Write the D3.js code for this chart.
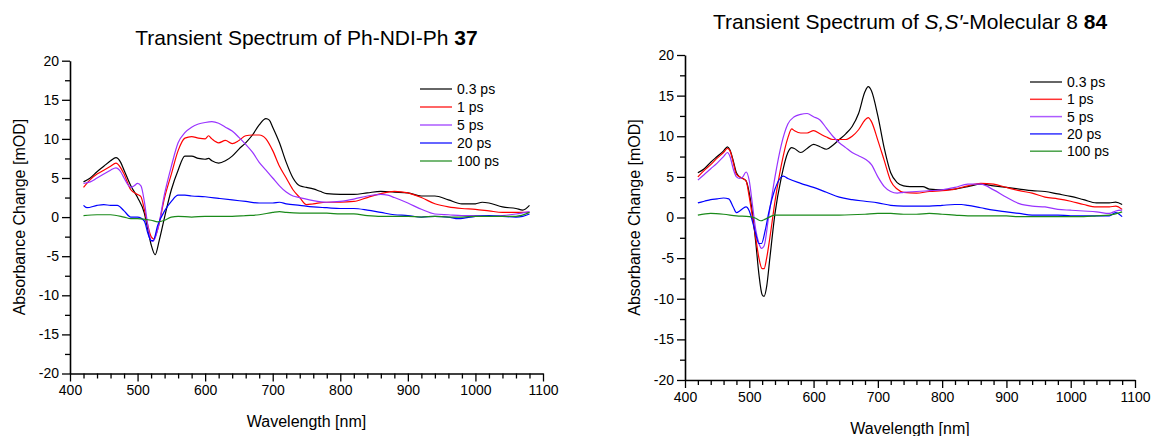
<!DOCTYPE html>
<html>
<head>
<meta charset="utf-8">
<script src="https://cdn.jsdelivr.net/npm/d3@7"></script>
<style>
  body { margin: 0; background: #fff; }
  svg { display: block; font-family: "Liberation Sans", Arial, sans-serif; }
</style>
</head>
<body>
<div id="chart"></div>
<script>
// series labels + colours
const seriesNames = ["0.3 ps", "1 ps", "5 ps", "20 ps", "100 ps"];
const seriesColors = ["#000000", "#ff0000", "#9933ff", "#0000ff", "#1a8a1a"];

const xTicks = [400, 500, 600, 700, 800, 900, 1000, 1100];
const yTicks = [-20, -15, -10, -5, 0, 5, 10, 15, 20];

// Ph-NDI-Ph 37  [nm, mOD]
const left03 = [[420,4.5],[430,5.0],[440,5.8],[450,6.5],[460,7.2],[468,7.6],[475,7.0],[480,6.0],[490,4.0],[500,2.5],[510,0.5],[515,-1.5],[520,-3.5],[526,-4.8],[532,-3.0],[540,0],[550,3.5],[560,6.0],[570,7.8],[580,7.8],[590,7.5],[600,7.4],[605,7.5],[610,7.2],[620,6.9],[630,7.2],[640,7.8],[650,8.7],[660,9.5],[670,10.5],[680,11.8],[690,12.6],[695,12.4],[700,11.5],[710,9.5],[720,7.0],[730,5.0],[740,4.0],[750,3.8],[760,3.6],[770,3.3],[780,3.0],[800,2.9],[820,2.9],[840,3.1],[860,3.3],[880,3.2],[900,3.1],[920,2.7],[940,2.7],[960,2.2],[980,1.7],[1000,1.7],[1010,1.9],[1020,1.8],[1040,1.3],[1060,1.1],[1070,0.9],[1080,1.5]];
const left1 = [[420,3.8],[430,4.8],[440,5.5],[450,6.0],[460,6.5],[468,6.9],[475,6.3],[480,5.5],[490,3.5],[500,2.9],[505,2.6],[510,1.0],[515,-1.0],[520,-2.5],[524,-2.8],[530,-1.5],[540,2.5],[550,5.5],[560,8.5],[570,10.1],[580,10.3],[590,10.1],[600,10.0],[605,10.4],[610,10.0],[620,9.5],[630,9.8],[640,9.4],[650,9.8],[660,10.4],[670,10.5],[680,10.5],[690,10.0],[700,8.5],[710,6.5],[720,5.0],[730,3.5],[740,2.5],[750,1.6],[760,1.7],[780,1.9],[800,1.9],[820,2.0],[840,2.5],[860,3.0],[880,3.3],[900,3.1],[920,2.5],[940,1.7],[960,1.3],[980,1.1],[1000,1.0],[1020,0.8],[1040,0.6],[1060,0.6],[1080,0.6]];
const left5 = [[420,4.3],[430,4.5],[440,5.0],[450,5.5],[460,6.0],[468,6.3],[475,5.8],[480,5.0],[490,3.8],[495,4.0],[500,4.3],[505,4.0],[510,2.0],[515,-1.0],[520,-3.0],[523,-3.1],[530,-1.5],[540,3.0],[550,6.5],[560,9.5],[570,10.8],[580,11.5],[590,11.9],[600,12.1],[610,12.2],[620,12.0],[630,11.5],[640,11.0],[650,10.2],[660,9.3],[670,8.3],[680,7.0],[690,6.0],[700,5.0],[710,4.0],[720,3.2],[730,2.7],[740,2.5],[760,2.1],[780,1.9],[800,2.0],[820,2.3],[840,2.7],[860,2.9],[870,2.8],[880,2.5],[900,1.8],[920,1.0],[940,0.4],[960,0.3],[980,0.2],[1000,0.2],[1020,0.1],[1040,0.2],[1060,0.4],[1080,0.7]];
const left20 = [[420,1.5],[425,1.2],[440,1.5],[450,1.6],[460,1.5],[470,1.5],[480,0.8],[490,0.0],[500,0.0],[510,-0.5],[515,-2.0],[520,-3.0],[523,-3.0],[530,-1.0],[540,0.8],[550,2.0],[560,2.8],[570,2.8],[580,2.7],[600,2.6],[620,2.4],[640,2.2],[660,2.0],[680,1.8],[700,1.8],[710,1.9],[720,1.7],[740,1.5],[760,1.3],[780,1.2],[800,1.1],[820,1.1],[840,0.9],[860,0.6],[880,0.3],[900,0.2],[920,0.0],[940,0.1],[960,0.0],[975,-0.2],[1000,0.1],[1020,0.2],[1040,0.1],[1060,0.0],[1070,0.1],[1080,0.4]];
const left100 = [[420,0.2],[440,0.3],[460,0.3],[480,0.0],[490,-0.2],[500,-0.2],[520,-0.4],[530,-0.6],[540,-0.4],[550,0.0],[560,0.1],[580,0.0],[600,0.1],[620,0.1],[640,0.1],[660,0.2],[680,0.3],[700,0.6],[710,0.7],[720,0.6],[740,0.5],[760,0.5],[780,0.5],[800,0.4],[820,0.4],[840,0.2],[860,0.1],[880,0.1],[900,0.1],[920,0.0],[940,0.1],[960,0.0],[980,0.0],[1000,0.1],[1020,0.1],[1040,0.1],[1060,0.1],[1080,0.6]];

// S,S'-Molecular 8 84  [nm, mOD]
const right03 = [[420,5.5],[430,6.0],[440,6.8],[450,7.5],[460,8.2],[466,8.7],[470,8.3],[475,7.0],[480,5.5],[485,5.0],[490,4.8],[495,4.5],[500,3.0],[505,0.5],[510,-3.0],[515,-7.0],[520,-9.5],[523,-9.7],[527,-8.5],[532,-5.0],[540,0.5],[550,5.0],[560,8.0],[566,8.6],[570,8.5],[580,8.0],[590,8.5],[600,9.0],[610,8.7],[620,8.4],[630,8.9],[640,9.6],[650,10.3],[660,11.2],[670,12.8],[680,15.5],[685,16.1],[690,15.6],[700,12.5],[710,8.5],[720,5.5],[730,4.3],[740,3.9],[750,3.8],[760,3.8],[770,3.8],[780,3.5],[800,3.4],[820,3.5],[840,3.8],[860,4.1],[880,3.9],[900,3.7],[920,3.5],[940,3.3],[960,3.2],[980,2.9],[1000,2.6],[1020,2.2],[1040,1.8],[1060,1.8],[1070,1.9],[1080,1.6]];
const right1 = [[420,5.0],[430,5.8],[440,6.5],[450,7.3],[460,8.0],[466,8.5],[470,8.2],[475,6.8],[480,5.3],[490,4.8],[495,4.5],[500,2.5],[505,0.0],[510,-2.5],[515,-5.0],[520,-6.3],[523,-6.3],[527,-5.0],[532,-2.5],[540,2.0],[550,6.5],[560,9.8],[566,10.9],[570,10.7],[580,10.4],[590,10.4],[600,10.7],[610,10.3],[620,9.9],[630,9.6],[640,9.6],[650,9.6],[660,10.0],[670,10.8],[680,12.0],[685,12.3],[690,11.8],[700,9.5],[710,7.0],[720,4.5],[730,3.5],[740,3.1],[760,3.0],[780,3.2],[800,3.3],[820,3.5],[840,3.9],[860,4.2],[880,4.1],[900,3.7],[920,3.3],[940,3.0],[960,2.5],[980,2.3],[1000,2.0],[1020,1.6],[1040,1.3],[1060,1.3],[1070,1.4],[1080,1.0]];
const right5 = [[420,4.6],[430,5.3],[440,6.0],[450,6.7],[460,7.5],[466,8.0],[470,7.5],[475,6.0],[480,5.0],[485,4.8],[490,5.0],[495,5.6],[500,4.5],[505,1.5],[510,-1.5],[515,-3.2],[519,-3.8],[523,-3.5],[530,0.0],[540,5.0],[550,9.0],[560,11.5],[570,12.4],[580,12.7],[590,12.8],[600,12.4],[610,12.0],[620,11.0],[630,10.0],[640,9.2],[650,8.6],[660,8.0],[670,7.6],[680,7.2],[690,6.5],[700,5.0],[710,3.8],[720,3.2],[730,3.0],[740,3.1],[760,3.2],[780,3.3],[800,3.4],[820,3.7],[840,4.1],[860,4.1],[880,3.4],[900,2.5],[920,1.7],[940,1.4],[960,1.3],[980,1.0],[1000,0.9],[1020,0.8],[1040,0.7],[1060,0.5],[1070,0.8],[1080,0.9]];
const right20 = [[420,1.8],[430,2.0],[440,2.2],[450,2.3],[460,2.4],[468,2.3],[475,1.3],[480,0.6],[485,0.8],[490,1.1],[495,1.3],[500,0.8],[505,-0.5],[510,-2.0],[515,-3.2],[519,-3.2],[525,-1.5],[530,0.5],[540,3.5],[550,5.0],[553,5.1],[560,4.8],[580,4.2],[600,3.7],[620,3.1],[640,2.5],[660,2.2],[680,2.0],[700,1.8],[720,1.5],[740,1.4],[760,1.4],[780,1.4],[800,1.5],[820,1.6],[830,1.6],[840,1.5],[860,1.2],[880,0.9],[900,0.7],[920,0.5],[940,0.3],[960,0.3],[980,0.3],[1000,0.2],[1020,0.2],[1040,0.2],[1060,0.2],[1070,0.6],[1080,0.1]];
const right100 = [[420,0.3],[440,0.5],[460,0.4],[480,0.2],[500,0.1],[510,-0.1],[518,-0.4],[525,-0.2],[540,0.3],[560,0.3],[580,0.3],[600,0.3],[640,0.3],[680,0.4],[700,0.5],[720,0.5],[740,0.4],[760,0.4],[780,0.5],[800,0.4],[820,0.3],[840,0.2],[860,0.2],[880,0.2],[900,0.2],[920,0.1],[940,0.1],[960,0.1],[980,0.1],[1000,0.1],[1020,0.1],[1040,0.2],[1060,0.3],[1080,0.7]];

const width = 1152;
const height = 436;

const svg = d3.select("#chart").append("svg")
    .attr("width", width)
    .attr("height", height);

function drawPanel(opts) {
    const g = svg.append("g");
    const x = d3.scaleLinear().domain([400, 1100]).range([opts.left, opts.right]);
    const y = d3.scaleLinear().domain([-20, 20]).range([opts.bottom, opts.top]);

    // minor ticks first
    const xMinor = d3.range(400, 1101, 20).filter(v => v % 100 !== 0);
    const yMinor = d3.range(-17.5, 20, 5);

    g.append("g")
        .attr("transform", "translate(0," + opts.bottom + ")")
        .call(d3.axisBottom(x).tickValues(xMinor).tickSize(5).tickFormat(""))
        .call(a => a.select(".domain").remove());
    g.append("g")
        .attr("transform", "translate(" + opts.left + ",0)")
        .call(d3.axisLeft(y).tickValues(yMinor).tickSize(5).tickFormat(""))
        .call(a => a.select(".domain").remove());

    g.append("g")
        .attr("transform", "translate(0," + opts.bottom + ")")
        .call(d3.axisBottom(x).tickValues(xTicks).tickSize(8).tickSizeOuter(0)
            .tickPadding(4).tickFormat(d => String(d)));
    g.append("g")
        .attr("transform", "translate(" + opts.left + ",0)")
        .call(d3.axisLeft(y).tickValues(yTicks).tickSize(8).tickSizeOuter(0)
            .tickPadding(3).tickFormat(d => String(d)));

    g.selectAll(".tick line").attr("stroke", "#000").attr("stroke-width", 1.3);
    g.selectAll(".domain").attr("stroke", "#000").attr("stroke-width", 1.6);
    g.selectAll(".tick text")
        .attr("fill", "#000")
        .style("font-family", "'Liberation Sans', Arial, sans-serif")
        .style("font-size", "14px");

    const line = d3.line()
        .x(d => x(d[0]))
        .y(d => y(d[1]))
        .curve(d3.curveMonotoneX);

    opts.series.forEach((s, i) => {
        g.append("path")
            .datum(s)
            .attr("fill", "none")
            .attr("stroke", seriesColors[i])
            .attr("stroke-width", 1.2)
            .attr("d", line);
    });

    // legend
    seriesNames.forEach((name, i) => {
        const ly = opts.legY + i * opts.legStep;
        g.append("line")
            .attr("x1", opts.legX).attr("x2", opts.legX + 32)
            .attr("y1", ly).attr("y2", ly)
            .attr("stroke", seriesColors[i])
            .attr("stroke-width", 1.5)
            .attr("opacity", 0.8);
        g.append("text")
            .attr("x", opts.legX + 37)
            .attr("y", ly + 5)
            .style("font-size", "14px")
            .text(name);
    });

    // title
    const t = g.append("text")
        .attr("x", (opts.left + opts.right) / 2)
        .attr("y", opts.titleY)
        .attr("text-anchor", "middle")
        .style("font-size", "21px");
    opts.title.forEach(part => {
        t.append("tspan")
            .style("font-weight", part.bold ? "bold" : "normal")
            .style("font-style", part.italic ? "italic" : "normal")
            .text(part.text);
    });

    g.append("text")
        .attr("x", (opts.left + opts.right) / 2)
        .attr("y", opts.xLabelY)
        .attr("text-anchor", "middle")
        .style("font-size", "16px")
        .text("Wavelength [nm]");

    g.append("text")
        .attr("transform", "translate(" + opts.yLabelX + "," + ((opts.top + opts.bottom) / 2) + ") rotate(-90)")
        .attr("text-anchor", "middle")
        .style("font-size", "16px")
        .text("Absorbance Change [mOD]");
}

drawPanel({
    left: 70, right: 543, top: 60.7, bottom: 373.5,
    series: [left03, left1, left5, left20, left100],
    legX: 420, legY: 89, legStep: 18,
    titleY: 45, xLabelY: 427, yLabelX: 25,
    title: [{ text: "Transient Spectrum of Ph-NDI-Ph " }, { text: "37", bold: true }]
});

drawPanel({
    left: 685, right: 1135, top: 55, bottom: 380,
    series: [right03, right1, right5, right20, right100],
    legX: 1030, legY: 82, legStep: 17.3,
    titleY: 29, xLabelY: 434, yLabelX: 640,
    title: [{ text: "Transient Spectrum of " }, { text: "S,S\u2032", italic: true }, { text: "-Molecular 8 " }, { text: "84", bold: true }]
});
</script>
</body>
</html>
